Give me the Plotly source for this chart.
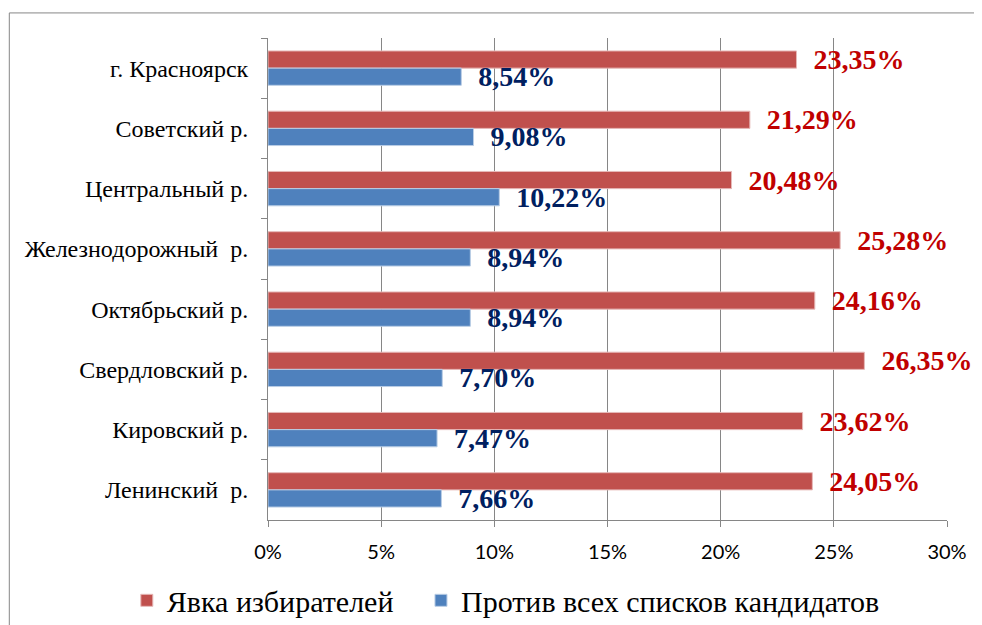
import plotly.graph_objects as go

# районы, сверху вниз
districts = ['г. Красноярск', 'Советский р.', 'Центральный р.', 'Железнодорожный  р.',
             'Октябрьский р.', 'Свердловский р.', 'Кировский р.', 'Ленинский  р.']
turnout = [23.35, 21.29, 20.48, 25.28, 24.16, 26.35, 23.62, 24.05]   # Явка избирателей
against = [8.54, 9.08, 10.22, 8.94, 8.94, 7.70, 7.47, 7.66]          # Против всех
x_ticks = [0, 5, 10, 15, 20, 25, 30]
x_ticklabels = [f'{t}%' for t in x_ticks]


def fmt(v):
    return '\u00a0\u00a0' + f'{v:.2f}'.replace('.', ',') + '%'


fig = go.Figure()
fig.add_trace(go.Bar(
    y=districts, x=turnout, orientation='h', name='Явка избирателей',
    marker=dict(color='#C0504D', line=dict(color='#E6B9B8', width=1)),
    text=[fmt(v) for v in turnout], textposition='outside', cliponaxis=False,
    constraintext='none', legend='legend',
    textfont=dict(family='Liberation Serif', size=28, color='#C00000', weight='bold'),
))
fig.add_trace(go.Bar(
    y=districts, x=against, orientation='h', name='Против всех списков кандидатов',
    marker=dict(color='#4F81BD', line=dict(color='#B9CDE5', width=1)),
    text=[fmt(v) for v in against], textposition='outside', cliponaxis=False,
    constraintext='none', legend='legend2',
    textfont=dict(family='Liberation Serif', size=28, color='#002060', weight='bold'),
))

leg_font = dict(family='Liberation Serif', size=30, color='black')

# страница сдвинута на 8px (отступ body), поэтому размер 974x617
fig.update_layout(
    width=974, height=617,
    margin=dict(l=260, r=35, t=30, b=105),
    paper_bgcolor='white', plot_bgcolor='white',
    barmode='group', bargap=0.43, bargroupgap=0,
    showlegend=True,
    legend=dict(orientation='h', xref='container', yref='container',
                x=0.122, xanchor='left', y=0.04, yanchor='middle',
                font=leg_font, itemwidth=30),
    legend2=dict(orientation='h', xref='container', yref='container',
                 x=0.424, xanchor='left', y=0.04, yanchor='middle',
                 font=leg_font, itemwidth=30),
    xaxis=dict(range=[0, 30], tickvals=x_ticks, ticktext=x_ticklabels,
               showgrid=True, gridcolor='#868686', gridwidth=1,
               showline=True, linecolor='#868686', linewidth=1,
               ticks='outside', ticklen=6, tickcolor='#868686',
               ticklabelstandoff=8,
               tickfont=dict(family='Lato', size=20, color='black'),
               zeroline=False, automargin=False),
    yaxis=dict(autorange='reversed', showgrid=False,
               showline=True, linecolor='#868686', linewidth=1,
               ticks='outside', ticklen=6, tickcolor='#868686', tickson='boundaries',
               ticklabelstandoff=14, automargin=False,
               tickfont=dict(family='Liberation Serif', size=24, color='black')),
    shapes=[dict(type='rect', xref='paper', yref='paper',
                 x0=-0.381, x1=1.049, y0=-0.3, y1=1.052,
                 line=dict(color='#868686', width=1))],
)

fig.write_html('out.html')
